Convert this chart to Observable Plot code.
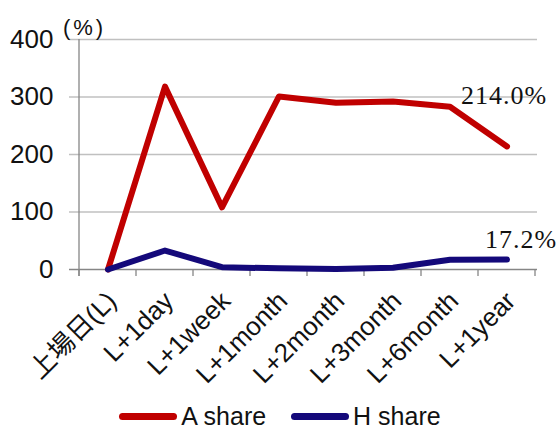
<!DOCTYPE html>
<html>
<head>
<meta charset="utf-8">
<script src="https://cdn.jsdelivr.net/npm/d3@7"></script>
<script src="https://cdn.jsdelivr.net/npm/@observablehq/plot@0.6"></script>
<style>
  html, body { margin: 0; padding: 0; background: #fff; }
  #wrap { position: relative; width: 560px; height: 429px; overflow: hidden; font-family: "Liberation Sans", Arial, "Noto Sans CJK JP", sans-serif; }
  #legend { position: absolute; left: 0; top: 404px; width: 560px; display: flex; justify-content: center; gap: 25px; font-size: 25px; line-height: 25px; color: #111; }
  .item { display: flex; align-items: center; }
  .sw { width: 58px; height: 7px; border-radius: 3.5px; margin-right: 4px; }
</style>
</head>
<body>
<div id="wrap"></div>
<script>
const categories = ["上場日(L)", "L+1day", "L+1week", "L+1month", "L+2month", "L+3month", "L+6month", "L+1year"];
const aShare = [0, 318, 108, 301, 290, 292, 283, 214.0];
const hShare = [0, 33, 4, 2, 1, 3, 17, 17.2];
const yTicks = [0, 100, 200, 300, 400];
const seriesNames = ["A share", "H share"];
const seriesColors = ["#c00000", "#14097a"];
const unitLabel = "(%)";

const rows = categories.flatMap((c, i) => [
  {cat: c, series: seriesNames[0], value: aShare[i]},
  {cat: c, series: seriesNames[1], value: hShare[i]}
]);
const lastA = [{cat: categories[categories.length - 1], value: aShare[aShare.length - 1]}];
const lastH = [{cat: categories[categories.length - 1], value: hShare[hShare.length - 1]}];
const pct = d => d.value.toFixed(1) + "%";

// axis line on the left and tick marks at the category boundaries
function frameTicks(index, scales) {
  const g = d3.create("svg:g");
  const x = scales.x, y = scales.y;
  const y0 = y(0);
  const edges = categories.map(c => x(c)).concat([x(categories[categories.length - 1]) + x.bandwidth()]);
  g.selectAll("line.t").data(edges).join("line")
    .attr("x1", d => d).attr("x2", d => d)
    .attr("y1", y0).attr("y2", y0 + 7)
    .attr("stroke", "#868686").attr("stroke-width", 1.3);
  g.append("line")
    .attr("x1", edges[0]).attr("x2", edges[0])
    .attr("y1", y(400)).attr("y2", y0 + 7)
    .attr("stroke", "#868686").attr("stroke-width", 1.3);
  return g.node();
}

const serif = "'Liberation Serif', 'DejaVu Serif', serif";

const chart = Plot.plot({
  width: 560,
  height: 395,
  marginLeft: 77,
  marginRight: 23,
  marginTop: 39,
  marginBottom: 126,
  style: {fontFamily: "'Liberation Sans', Arial, 'Noto Sans CJK JP', sans-serif", background: "#fff", color: "#111"},
  x: {type: "band", domain: categories, padding: 0, axis: null},
  y: {domain: [0, 400], ticks: yTicks},
  color: {domain: seriesNames, range: seriesColors},
  marks: [
    Plot.ruleY(yTicks.filter(d => d > 0), {stroke: "#c0c0c0", strokeWidth: 1.3, insetLeft: -8}),
    Plot.ruleY([0], {stroke: "#868686", strokeWidth: 1.3, insetLeft: -8}),
    frameTicks,
    Plot.axisY({ticks: yTicks, tickSize: 0, tickPadding: 24, fontSize: 26, label: null}),
    Plot.text([unitLabel], {frameAnchor: "top-left", dx: 7, dy: -20, fontSize: 22, textAnchor: "middle"}),
    Plot.text(categories, {x: d => d, frameAnchor: "bottom", rotate: -45, textAnchor: "end",
      lineAnchor: "bottom", dx: 10, dy: 33, fontSize: 26}),
    Plot.line(rows, {x: "cat", y: "value", z: "series", stroke: "series", strokeWidth: 6,
      strokeLinecap: "round", strokeLinejoin: "round"}),
    Plot.text(lastA, {x: "cat", y: "value", text: pct, dx: -3, dy: -42,
      lineAnchor: "bottom", textAnchor: "middle", fontSize: 26, fontFamily: serif, fill: "#111"}),
    Plot.text(lastH, {x: "cat", y: "value", text: pct, dx: 14, dy: -12,
      lineAnchor: "bottom", textAnchor: "middle", fontSize: 26, fontFamily: serif, fill: "#111"})
  ]
});

// wider spacing for the value labels and the unit label
const valueTexts = new Set([...lastA, ...lastH].map(pct));
d3.select(chart).selectAll("text").each(function() {
  const s = this.textContent;
  if (valueTexts.has(s)) d3.select(this).style("letter-spacing", "1px");
  else if (s === unitLabel) d3.select(this).style("letter-spacing", "3px");
});

const wrap = document.getElementById("wrap");
wrap.appendChild(chart);

const legend = document.createElement("div");
legend.id = "legend";
seriesNames.forEach((name, i) => {
  const item = document.createElement("div");
  item.className = "item";
  const sw = document.createElement("span");
  sw.className = "sw";
  sw.style.background = seriesColors[i];
  const label = document.createElement("span");
  label.textContent = name;
  item.appendChild(sw);
  item.appendChild(label);
  legend.appendChild(item);
});
wrap.appendChild(legend);
</script>
</body>
</html>
